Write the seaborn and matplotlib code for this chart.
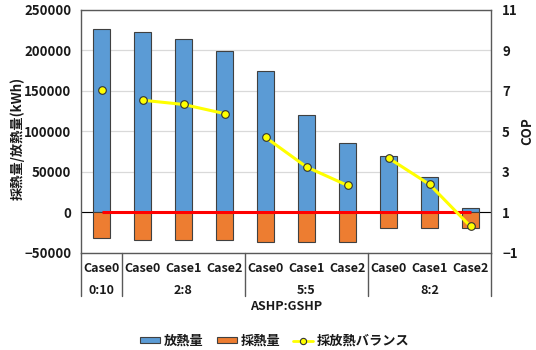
import numpy as np
import pandas as pd
import matplotlib
matplotlib.use("Agg")
import matplotlib.pyplot as plt
import matplotlib.transforms as mtransforms
from matplotlib.lines import Line2D
from matplotlib.patches import Patch
import seaborn as sns

# ---- data -------------------------------------------------------------
ratio_groups = ["0:10", "2:8", "2:8", "2:8", "5:5", "5:5", "5:5", "8:2", "8:2", "8:2"]
cases = ["Case0", "Case0", "Case1", "Case2", "Case0", "Case1", "Case2", "Case0", "Case1", "Case2"]
heat_release = [226000, 222000, 214000, 199000, 174000, 120000, 86000, 69000, 44000, 6000]
heat_extract = [-32000, -34000, -34000, -34000, -37000, -37000, -37000, -19000, -19000, -19000]
cop_balance = [7.04, 6.53, 6.32, 5.87, 4.70, 3.24, 2.33, 3.68, 2.38, 0.31]
group_labels = ["0:10", "2:8", "5:5", "8:2"]

y_ticks = [-50000, 0, 50000, 100000, 150000, 200000, 250000]
cop_ticks = [-1, 1, 3, 5, 7, 9, 11]

# ---- style ------------------------------------------------------------
sns.set_theme(style="white")
plt.rcParams["font.family"] = ["Noto Sans CJK JP", "DejaVu Sans"]
plt.rcParams["font.weight"] = "bold"
plt.rcParams["axes.labelweight"] = "bold"
plt.rcParams["axes.unicode_minus"] = True

BLUE = "#5B9BD5"
ORANGE = "#ED7D31"
YELLOW = "#FFFF00"
RED = "#FF0000"
EDGE = "#404040"
TXT = "#1a1a1a"
FS = 9.5

df = pd.DataFrame({
    "key": [f"{g}|{c}" for g, c in zip(ratio_groups, cases)],
    "group": ratio_groups,
    "case": cases,
    "release": heat_release,
    "extract": heat_extract,
    "cop": cop_balance,
})
df["pos"] = np.arange(len(df))
order = list(df["key"])

W, H = 536, 350
AX_L, AX_R, AX_T, AX_B = 81, 491, 9.5, 253
fig = plt.figure(figsize=(W / 100, H / 100), dpi=100)
ax = fig.add_axes([AX_L / W, 1 - AX_B / H, (AX_R - AX_L) / W, (AX_B - AX_T) / H])

ax.set_axisbelow(True)
ax.yaxis.grid(True, color="#D9D9D9", lw=0.9)
ax.axhline(0, color="black", lw=0.8, zorder=1)

sns.barplot(data=df, x="key", y="release", order=order, color=BLUE,
            width=0.4, saturation=1, edgecolor=EDGE, linewidth=0.8, ax=ax, zorder=2)
sns.barplot(data=df, x="key", y="extract", order=order, color=ORANGE,
            width=0.4, saturation=1, edgecolor=EDGE, linewidth=0.8, ax=ax, zorder=2)

ax.set_xlim(-0.5, len(df) - 0.5)
ax.set_ylim(-50000, 250000)
ax.set_yticks(y_ticks)
ax.set_yticklabels([f"{v:d}".replace("-", "\u2212") for v in y_ticks],
                   fontsize=FS, color=TXT)
ax.set_xticks([])
ax.set_xlabel("")
ax.set_ylabel("採熱量/放熱量(kWh)", fontsize=FS, color=TXT)
ax.yaxis.set_label_coords((25 - AX_L) / (AX_R - AX_L), 0.47)
ax.tick_params(axis="y", length=0, pad=7)
for s in ax.spines.values():
    s.set_color("#595959")
    s.set_linewidth(1.0)

# COP on the secondary axis
ax2 = ax.twinx()
ax2.set_ylim(-1, 11)

# balance line (COP = 1, i.e. zero heat) from first to last case
ax2.hlines(1, df["pos"].iloc[0], df["pos"].iloc[-1], color=RED, lw=2.2, zorder=3)

sns.lineplot(data=df, x="pos", y="cop", hue="group",
             palette={g: YELLOW for g in group_labels},
             marker="o", markersize=5.5, markerfacecolor=YELLOW,
             markeredgecolor="#333333", markeredgewidth=0.8,
             lw=2.2, legend=False, ax=ax2, zorder=4)
ax2.set_xlim(-0.5, len(df) - 0.5)
ax2.set_ylim(-1, 11)
ax2.set_yticks(cop_ticks)
ax2.set_yticklabels([f"{v:d}".replace("-", "\u2212") for v in cop_ticks],
                    fontsize=FS, color=TXT)
ax2.tick_params(axis="y", length=0, pad=8)
ax2.set_xlabel("")
ax2.set_ylabel("COP", fontsize=FS, color=TXT)
ax2.yaxis.set_label_coords((520 - AX_L) / (AX_R - AX_L), 0.5)
for s in ax2.spines.values():
    s.set_visible(False)

# two-level category axis below the plot
trans = mtransforms.blended_transform_factory(ax.transData, fig.transFigure)
for p, c in zip(df["pos"], df["case"]):
    fig.text(p, 1 - 269 / H, c, transform=trans, ha="center", va="center",
             fontsize=9, color=TXT)
grp_pos = df.groupby("group", sort=False)["pos"].agg(["min", "max"])
for g in group_labels:
    lo, hi = grp_pos.loc[g, "min"], grp_pos.loc[g, "max"]
    fig.text((lo + hi) / 2, 1 - 291 / H, g, transform=trans, ha="center",
             va="center", fontsize=9, color=TXT)
bounds = [grp_pos.loc[group_labels[0], "min"] - 0.5] + \
         [grp_pos.loc[g, "max"] + 0.5 for g in group_labels]
for b in bounds:
    fig.add_artist(Line2D([b, b], [1 - AX_B / H, 1 - 296 / H], transform=trans,
                          color="#595959", lw=1.0))
fig.text(0.5 * (AX_L + AX_R) / W, 1 - 307 / H, "ASHP:GSHP", ha="center",
         va="center", fontsize=9, color=TXT)

handles = [
    Patch(facecolor=BLUE, edgecolor=EDGE, linewidth=0.8, label="放熱量"),
    Patch(facecolor=ORANGE, edgecolor=EDGE, linewidth=0.8, label="採熱量"),
    Line2D([], [], color=YELLOW, lw=2, marker="o", markersize=4.5,
           markerfacecolor=YELLOW, markeredgecolor="#333333", markeredgewidth=0.8,
           label="採放熱バランス"),
]
fig.legend(handles=handles, loc="center", bbox_to_anchor=(275 / W, 1 - 341 / H),
           ncol=3, frameon=False, fontsize=FS, handlelength=1.5, handleheight=0.35,
           handletextpad=0.3, columnspacing=1.0, labelcolor=TXT)

fig.savefig("out.png", dpi=100)
